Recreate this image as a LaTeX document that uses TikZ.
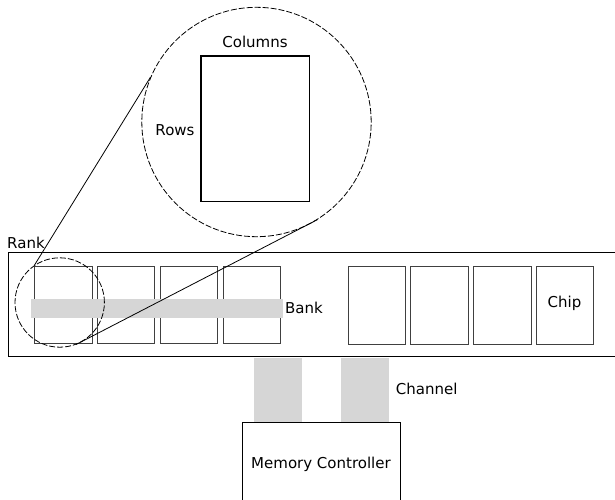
\documentclass[tikz,border=0pt]{standalone}
\usepackage{fontspec}
\setmainfont{DejaVu Sans}
\begin{document}
\begin{tikzpicture}[x=1pt,y=-1pt,
  lbl/.style={inner sep=0pt,font=\fontsize{15}{18}\selectfont},
  chipbox/.style={draw=black!75,line width=0.9pt,minimum width=57.3pt,minimum height=77.5pt,inner sep=0pt,anchor=north west},
  band/.style={fill=black!16,draw=none},
  zoomc/.style={draw,line width=0.8pt,dash pattern=on 6pt off 2pt},
  frame/.style={draw,line width=0.9pt}]
\useasboundingbox (0,0) rectangle (615,499);
\clip (0,0) rectangle (615,499);
% rank
\draw[frame] (8,252.7) rectangle (630,356.7);
\node[lbl,anchor=west] (rank) at (7,243) {Rank};
% chips
\node[chipbox] (c1) at (34.3,265.7) {};
\node[chipbox] (c2) at (97,265.7) {};
\node[chipbox] (c3) at (160,265.7) {};
\node[chipbox] (c4) at (222.5,265.7) {};
\node[chipbox] (c5) at (347.7,266) {};
\node[chipbox] (c6) at (410.3,266) {};
\node[chipbox] (c7) at (473.3,266) {};
\node[chipbox] (c8) at (536,266) {};
\node[lbl] (chip) at (564.5,303) {Chip};
% bank band (drawn over the chips)
\fill[band] (31,299) rectangle (282.7,317.7);
\node[lbl,anchor=west] (bank) at (285,308) {Bank};
% channels
\fill[band] (254,357.5) rectangle (301.7,422.3);
\fill[band] (341,357.5) rectangle (388.7,422.3);
\node[lbl,anchor=west] (chan) at (395.7,389) {Channel};
% memory controller
\draw[frame] (242.7,510) -- (242.7,422.3) -- (400,422.3) -- (400,510);
\node[lbl] (mc) at (321,464) {Memory Controller};
% zoom circles
\node[zoomc,circle,minimum size=89.4pt,inner sep=0pt] (small) at (59.7,302.5) {};
\node[zoomc,circle,minimum size=229.4pt,inner sep=0pt] (big) at (256.5,122) {};
\draw[line width=0.8pt] (small.124) -- (big.157);
\draw[line width=0.8pt] (small.-69) -- (big.-58.4);
% array
\draw[line width=1.4pt] (201,56) rectangle (309.3,201.7);
\node[lbl] (cols) at (255,42) {Columns};
\node[lbl] (rows) at (175,130) {Rows};
\end{tikzpicture}
\end{document}
